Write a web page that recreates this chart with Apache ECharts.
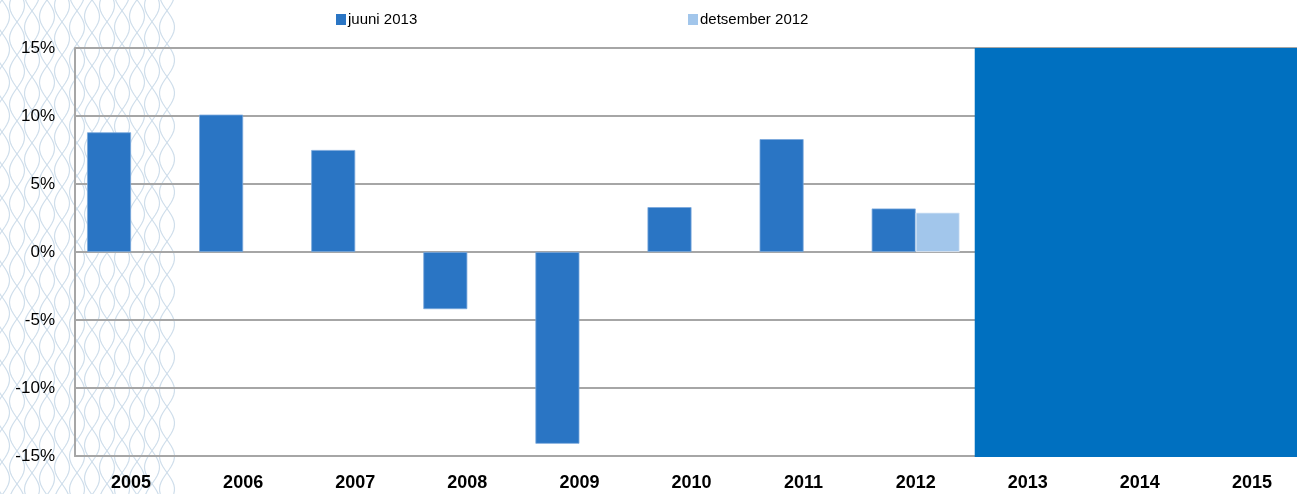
<!DOCTYPE html>
<html><head><meta charset="utf-8">
<script src="https://cdn.jsdelivr.net/npm/echarts@6/dist/echarts.min.js"></script>
<style>html,body{margin:0;padding:0;background:#fff;overflow:hidden}#c{width:1308px;height:494px}</style>
</head><body><div id="c"></div>
<script>
const categories = ['2005','2006','2007','2008','2009','2010','2011','2012','2013','2014','2015'];
const juuni2013 = [8.8, 10.1, 7.5, -4.2, -14.1, 3.3, 8.3, 3.2, null, null, null];
const detsember2012 = [null, null, null, null, null, null, null, 2.9, null, null, null];
const forecastRange = ['2013', '2015'];
const yMin = -15, yMax = 15, yStep = 5;

// decorative guilloche background on the left side
const deco = [];
for (let i = -1; i <= 11; i++) {
  const cx = i * 15 + 2;
  for (let s = -1; s <= 1; s += 2) {
    const pts = [];
    for (let y = -10; y <= 504; y += 3) {
      pts.push([cx + s * 7.5 * Math.sin(2 * Math.PI * y / 66 + i * 1.05), y]);
    }
    deco.push({type: 'polyline', z: -10, silent: true,
      shape: {points: pts, smooth: 0},
      style: {fill: null, stroke: '#cfdeeb', lineWidth: 1.2}});
  }
}

const chart = echarts.init(document.getElementById('c'));
const font = "'Liberation Sans', Arial, sans-serif";
const gridColor = '#a6a6a6';
const legendText = {fontFamily: font, fontSize: 15, color: '#000', padding: [0, 0, 0, -3]};
chart.setOption({
  animation: false,
  graphic: {elements: deco},
  grid: {left: 75, right: 0, top: 48, bottom: 38, containLabel: false},
  legend: [
    {data: ['juuni 2013'], left: 331, top: 7, icon: 'rect', itemWidth: 10, itemHeight: 11,
     itemStyle: {borderWidth: 0}, textStyle: legendText},
    {data: ['detsember 2012'], left: 683, top: 7, icon: 'rect', itemWidth: 10, itemHeight: 11,
     itemStyle: {borderWidth: 0}, textStyle: legendText}
  ],
  xAxis: {
    type: 'category', data: categories,
    axisLine: {onZero: false, lineStyle: {color: gridColor, width: 2}},
    axisTick: {show: false},
    axisLabel: {fontFamily: font, fontWeight: 'bold', fontSize: 18, color: '#000', margin: 18}
  },
  yAxis: {
    type: 'value', min: yMin, max: yMax, interval: yStep,
    axisLine: {show: true, lineStyle: {color: gridColor, width: 2}},
    axisTick: {show: false},
    splitLine: {lineStyle: {color: gridColor, width: 2}},
    axisLabel: {formatter: '{value}%', fontFamily: font, fontSize: 17, color: '#000', margin: 20}
  },
  series: [
    {name: 'juuni 2013', type: 'bar', data: juuni2013, barWidth: 44, barGap: '0%',
     itemStyle: {color: '#2a75c4', borderColor: '#7aa8dc', borderWidth: 0.8}},
    {name: 'detsember 2012', type: 'bar', data: detsember2012, barWidth: 44, barGap: '0%',
     itemStyle: {color: '#a2c6eb', borderColor: '#e3eef9', borderWidth: 0.8}},
    {name: 'prognoos', type: 'custom', silent: true, z: 5,
     data: [[categories.indexOf(forecastRange[0]), categories.indexOf(forecastRange[1])]],
     renderItem: function (params, api) {
       const band = api.size([1, 0])[0];
       const p0 = api.coord([api.value(0), yMax]);
       const p1 = api.coord([api.value(1), yMin]);
       const x0 = p0[0] - band / 2 + 3;
       return {type: 'rect', shape: {x: x0, y: p0[1], width: p1[0] + band / 2 - x0 + 20, height: p1[1] - p0[1] + 1},
               style: {fill: '#0070c0'}};
     }}
  ]
});
</script></body></html>
